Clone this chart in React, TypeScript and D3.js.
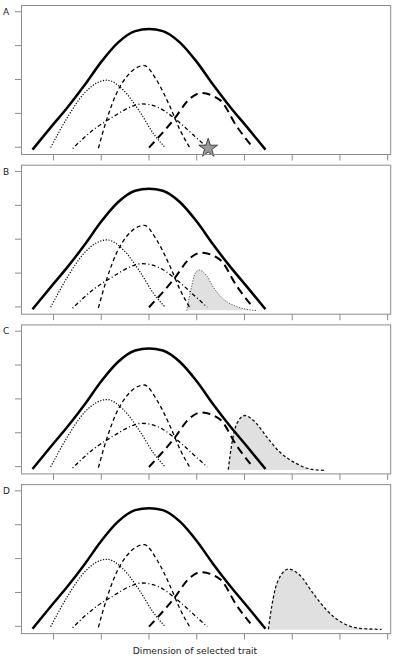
import React from 'react';
import * as d3 from 'd3';

const panelLabels = ['A', 'B', 'C', 'D'];
const xTicks = [0, 1, 2, 3, 4, 5, 6, 7];
const yTicks = [0, 1, 2, 3, 4];
const axisTitle = 'Dimension of selected trait';

// Solid (overall) curve
const solidX = [-0.44, -0.05, 0.3, 0.66, 1.0, 1.35, 1.71, 2.0, 2.29, 2.65, 3.0, 3.34, 3.7, 4.05, 4.44];
const solidY = [-0.07, 0.6, 1.19, 1.85, 2.52, 3.09, 3.43, 3.49, 3.43, 3.09, 2.52, 1.85, 1.19, 0.6, -0.07];

// Dotted component
const dottedX = [-0.06, 0.3, 0.66, 1.12, 1.46, 1.81, 2.09, 2.34];
const dottedY = [-0.01, 0.9, 1.62, 1.98, 1.69, 1.04, 0.41, -0.01];

// Short-dashed component
const shortX = [0.94, 1.11, 1.32, 1.53, 1.9, 2.16, 2.44, 2.65, 2.86];
const shortY = [-0.03, 0.8, 1.59, 2.08, 2.41, 1.98, 1.2, 0.51, -0.03];

// Dash-dot component
const dashDotX = [0.4, 0.83, 1.25, 1.67, 1.85, 2.23, 2.58, 2.93, 3.22];
const dashDotY = [-0.04, 0.51, 0.9, 1.22, 1.28, 1.15, 0.8, 0.36, -0.01];

// Long-dashed component
const longX = [2.0, 2.51, 2.86, 3.09, 3.49, 3.84, 4.19];
const longY = [-0.01, 0.8, 1.44, 1.6, 1.39, 0.61, -0.03];

// Star marker (panel A)
const starX = 3.24;
const starY = -0.03;

// Shaded skewed curves (panels B, C, D)
const skewBX = [2.79, 2.89, 2.96, 3.05, 3.21, 3.35, 3.56, 3.84, 4.26];
const skewBY = [-0.11, 0.58, 0.97, 1.09, 0.92, 0.58, 0.23, 0.01, -0.11];
const skewCX = [3.66, 3.73, 3.84, 4.01, 4.19, 4.47, 4.74, 5.09, 5.44, 5.69];
const skewCY = [-0.09, 0.63, 1.27, 1.51, 1.36, 0.87, 0.43, 0.09, -0.09, -0.11];
const skewDX = [4.5, 4.57, 4.68, 4.92, 5.16, 5.44, 5.72, 6.07, 6.42, 6.87];
const skewDY = [-0.09, 0.58, 1.27, 1.69, 1.51, 0.97, 0.48, 0.09, -0.06, -0.09];

const W = 397;
const H = 658;
const frameLeft = 21;
const frameRight = 390.7;
const panelTops = [5, 164.7, 324.4, 484.1];
const panelH = 149;

const zip = (xs: number[], ys: number[]) => xs.map((x, i) => [x, ys[i]] as [number, number]);

export default function App() {
  const x = d3.scaleLinear().domain([-0.681, 7.063]).range([frameLeft, frameRight]);

  const components = [
    { pts: zip(dottedX, dottedY), dash: '1.2 1.6', w: 1.2 },
    { pts: zip(shortX, shortY), dash: '4 3', w: 1.3 },
    { pts: zip(dashDotX, dashDotY), dash: '1 2.5 4 2.5', w: 1.3 },
    { pts: zip(longX, longY), dash: '8 5', w: 2 },
    { pts: zip(solidX, solidY), dash: null, w: 2.5 },
  ];

  const skews = [
    null,
    { pts: zip(skewBX, skewBY), dash: '1.2 1.5', w: 1, color: '#555' },
    { pts: zip(skewCX, skewCY), dash: '3 2.2', w: 1.3, color: '#111' },
    { pts: zip(skewDX, skewDY), dash: '3 2.2', w: 1.3, color: '#111' },
  ];

  const star = d3.symbol().type(d3.symbolStar).size(110)();

  return (
    <svg width={W} height={H} style={{ position: 'absolute', left: 0, top: 0, background: '#fff' }}
      fontFamily="'DejaVu Sans', Verdana, sans-serif">
      {panelLabels.map((lab, pi) => {
        const top = panelTops[pi];
        const y = d3.scaleLinear().domain([-0.2, 4.2]).range([top + panelH, top]);
        const line = d3.line<[number, number]>().x(d => x(d[0])).y(d => y(d[1])).curve(d3.curveMonotoneX);
        const area = d3.area<[number, number]>().x(d => x(d[0])).y0(() => y(-0.1)).y1(d => y(d[1])).curve(d3.curveMonotoneX);
        const sk = skews[pi];
        return (
          <g key={lab}>
            {sk && <path d={area(sk.pts) || ''} fill="#e0e0e0" stroke="none" />}
            {sk && <path d={line(sk.pts) || ''} fill="none" stroke={sk.color} strokeWidth={sk.w} strokeDasharray={sk.dash} />}
            {components.map((c, ci) => (
              <path key={ci} d={line(c.pts) || ''} fill="none" stroke="#000" strokeWidth={c.w}
                strokeDasharray={c.dash || undefined} strokeLinecap="butt" />
            ))}
            {pi === 0 && (
              <path d={star || ''} transform={`translate(${x(starX)},${y(starY)})`} fill="#999" stroke="#222" strokeWidth={0.8} />
            )}
            <rect x={frameLeft + 0.5} y={top + 0.5} width={frameRight - frameLeft - 0.5} height={panelH} fill="none" stroke="#8c8c8c" strokeWidth={1} />
            {yTicks.map(t => (
              <line key={'y' + t} x1={frameLeft - 6} x2={frameLeft + 0.5} y1={y(t)} y2={y(t)} stroke="#8c8c8c" strokeWidth={1} />
            ))}
            {xTicks.map(t => (
              <line key={'x' + t} x1={x(t)} x2={x(t)} y1={top + panelH + 0.5} y2={top + panelH + 6.5} stroke="#8c8c8c" strokeWidth={1} />
            ))}
            <text x={3} y={y(4)} dy="0.35em" fontSize={9} fill="#222">{lab}</text>
          </g>
        );
      })}
      <text x={195} y={654} textAnchor="middle" fontSize={9.2} fill="#222">{axisTitle}</text>
    </svg>
  );
}
